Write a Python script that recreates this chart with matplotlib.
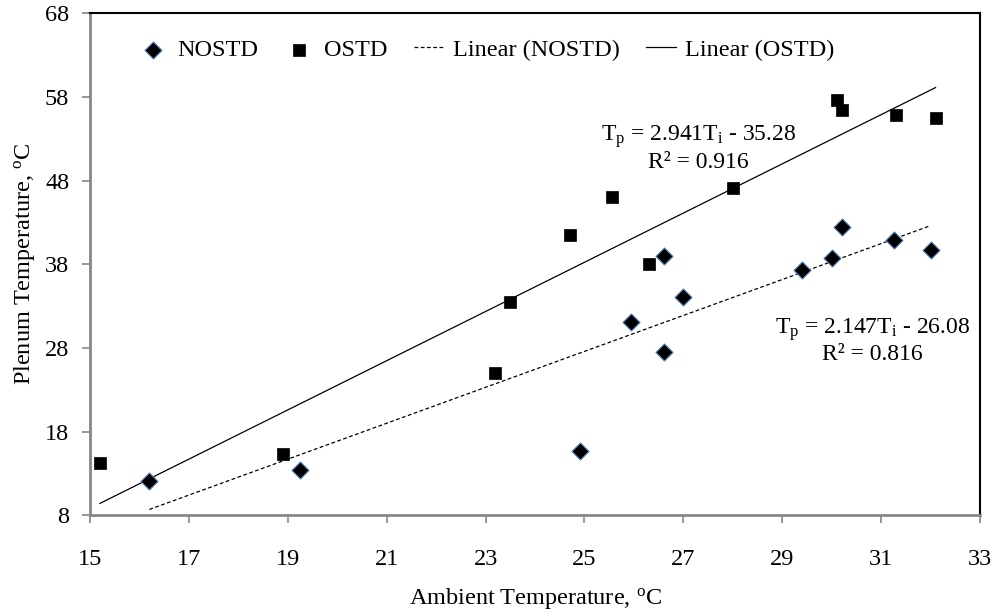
import numpy as np
import matplotlib
matplotlib.use("Agg")
import matplotlib.pyplot as plt

plt.rcParams["font.family"] = ["Liberation Serif", "DejaVu Serif"]
plt.rcParams["mathtext.fontset"] = "custom"
plt.rcParams["mathtext.rm"] = "Liberation Serif"
plt.rcParams["mathtext.it"] = "Liberation Serif:italic"

# ambient vs plenum temperature, two test conditions
nostd_x = [16.2, 19.25, 24.9, 25.95, 26.6, 26.6, 27.0, 29.4, 30.0, 30.2, 31.25, 32.0]
nostd_y = [12.1, 13.4, 15.7, 31.05, 27.5, 39.0, 34.1, 37.3, 38.8, 42.5, 40.9, 39.7]
ostd_x = [15.2, 18.9, 23.2, 23.5, 24.7, 25.55, 26.3, 28.0, 30.1, 30.2, 31.3, 32.1]
ostd_y = [14.2, 15.3, 25.0, 33.5, 41.5, 46.0, 38.0, 47.1, 57.6, 56.4, 55.8, 55.5]

# fitted trend lines (slope, intercept, R^2)
nostd_fit = (2.147, -26.08, 0.816)
ostd_fit = (2.941, -35.28, 0.916)

x_ticks = [15, 17, 19, 21, 23, 25, 27, 29, 31, 33]
y_ticks = [8, 18, 28, 38, 48, 58, 68]

FS = 17.5

fig = plt.figure(figsize=(9.97, 6.11), dpi=100)
ax = fig.add_axes([0.0903, 0.1566, 0.8927, 0.8216])

ax.scatter(nostd_x, nostd_y, marker="D", s=75, color="black",
           edgecolors="#4f81bd", linewidths=0.8, label="NOSTD", zorder=3)
ax.scatter(ostd_x, ostd_y, marker="s", s=80, color="black",
           edgecolors="black", linewidths=0.5, label="OSTD", zorder=3)

xs = np.array([min(nostd_x), max(nostd_x)])
ax.plot(xs, nostd_fit[0] * xs + nostd_fit[1], color="black", lw=0.9,
        ls=(0, (3, 2)), label="Linear (NOSTD)", zorder=2)
xs = np.array([min(ostd_x), max(ostd_x)])
ax.plot(xs, ostd_fit[0] * xs + ostd_fit[1], color="black", lw=0.9,
        label="Linear (OSTD)", zorder=2)

ax.text(27.3, 51.9,
        r"T$_{\mathrm{p}}$ = %.3fT$_{\mathrm{i}}$ - %.2f" % (ostd_fit[0], -ostd_fit[1])
        + "\nR² = %.3f" % ostd_fit[2],
        ha="center", va="center", fontsize=17, linespacing=1.1)
ax.text(30.83, 28.9,
        r"T$_{\mathrm{p}}$ = %.3fT$_{\mathrm{i}}$ - %.2f" % (nostd_fit[0], -nostd_fit[1])
        + "\nR² = %.3f" % nostd_fit[2],
        ha="center", va="center", fontsize=17, linespacing=1.1)

ax.set_xlim(15, 33)
ax.set_ylim(8, 68)
ax.set_xticks(x_ticks)
ax.set_yticks(y_ticks)
ax.tick_params(direction="out", length=6, width=1.2, color="#868686",
               labelsize=FS)
ax.tick_params(axis="x", pad=18)
ax.tick_params(axis="y", pad=9)

for side in ("left", "bottom"):
    ax.spines[side].set_color("#868686")
    ax.spines[side].set_linewidth(2)
for side in ("top", "right"):
    ax.spines[side].set_color("black")
    ax.spines[side].set_linewidth(1.5)

ax.set_xlabel(r"Ambient Temperature, $^{\mathrm{o}}$C", fontsize=FS, labelpad=12)
ax.set_ylabel(r"Plenum Temperature, $^{\mathrm{o}}$C", fontsize=FS, labelpad=6)

ax.legend(loc="center left", bbox_to_anchor=(0.054, 0.927), ncol=4, frameon=False,
          fontsize=FS, handlelength=1.2, handletextpad=0.4, columnspacing=1.1,
          borderpad=0, borderaxespad=0, scatterpoints=1)

fig.savefig("out.png", dpi=100)
